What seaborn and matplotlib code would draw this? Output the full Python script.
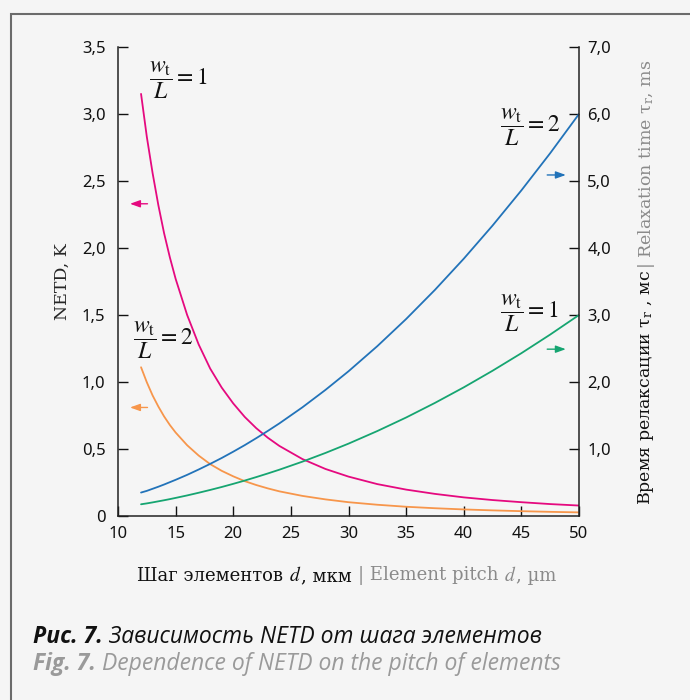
import matplotlib
matplotlib.use("Agg")
import matplotlib.pyplot as plt
import seaborn as sns
import pandas as pd
from matplotlib.patches import Rectangle

# ---- data ----
d = [12, 12.5, 13, 13.5, 14, 14.5, 15, 16, 17, 18, 19, 20, 21, 22, 23, 24, 26, 28, 30,
     32.5, 35, 37.5, 40, 42.5, 45, 47.5, 50]
netd_wl1 = [3.15, 2.83, 2.56, 2.32, 2.11, 1.93, 1.77, 1.50, 1.28, 1.10, 0.958, 0.84, 0.739,
            0.655, 0.584, 0.523, 0.425, 0.351, 0.294, 0.238, 0.197, 0.165, 0.139, 0.119,
            0.103, 0.089, 0.078]
netd_wl2 = [1.11, 0.998, 0.90, 0.817, 0.743, 0.679, 0.623, 0.528, 0.451, 0.387, 0.337, 0.296,
            0.260, 0.231, 0.206, 0.184, 0.150, 0.124, 0.103, 0.084, 0.069, 0.058, 0.049,
            0.042, 0.036, 0.031, 0.027]
tau_wl2 = [0.35, 0.375, 0.406, 0.437, 0.470, 0.505, 0.54, 0.614, 0.694, 0.778, 0.866, 0.96,
           1.058, 1.162, 1.270, 1.382, 1.622, 1.882, 2.16, 2.535, 2.94, 3.375, 3.84, 4.335,
           4.86, 5.415, 6.00]
tau_wl1 = [0.175, 0.188, 0.203, 0.219, 0.235, 0.252, 0.27, 0.307, 0.347, 0.389, 0.433, 0.48,
           0.529, 0.581, 0.635, 0.691, 0.811, 0.941, 1.08, 1.268, 1.47, 1.688, 1.92, 2.168,
           2.43, 2.708, 3.00]

x_ticks = [10, 15, 20, 25, 30, 35, 40, 45, 50]
y_left_ticks = [0, 0.5, 1.0, 1.5, 2.0, 2.5, 3.0, 3.5]
y_left_labels = ["0", "0,5", "1,0", "1,5", "2,0", "2,5", "3,0", "3,5"]
y_right_ticks = [1, 2, 3, 4, 5, 6, 7]
y_right_labels = ["1,0", "2,0", "3,0", "4,0", "5,0", "6,0", "7,0"]

PINK = "#e5097f"
ORANGE = "#f7964b"
BLUE = "#2273b9"
GREEN = "#16a571"
BG = "#f5f5f5"
GRAY = "#8a8a8a"

sns.set_theme(style="ticks")
plt.rcParams["font.family"] = ["DejaVu Serif"]
plt.rcParams["mathtext.fontset"] = "stix"
plt.rcParams["axes.linewidth"] = 1.1
plt.rcParams["axes.edgecolor"] = "#222222"

df = pd.DataFrame({"d": d, "n1": netd_wl1, "n2": netd_wl2, "t2": tau_wl2, "t1": tau_wl1})

fig = plt.figure(figsize=(6.9, 7.0), dpi=100, facecolor=BG)
ax = fig.add_axes([118 / 690, 1 - 516 / 700, (579 - 118) / 690, (516 - 47) / 700])
ax.set_facecolor(BG)
ax2 = ax.twinx()

sns.lineplot(data=df, x="d", y="n1", ax=ax, color=PINK, lw=1.3)
sns.lineplot(data=df, x="d", y="n2", ax=ax, color=ORANGE, lw=1.3)
sns.lineplot(data=df, x="d", y="t2", ax=ax2, color=BLUE, lw=1.3)
sns.lineplot(data=df, x="d", y="t1", ax=ax2, color=GREEN, lw=1.3)

ax.set_xlim(10, 50)
ax.set_ylim(0, 3.5)
ax2.set_ylim(0, 7)

tick_font = dict(family="Noto Sans", size=12)
ax.set_xticks(x_ticks)
ax.set_xticklabels([str(v) for v in x_ticks], fontdict=tick_font)
ax.set_yticks(y_left_ticks)
ax.set_yticklabels(y_left_labels, fontdict=tick_font)
ax2.set_yticks(y_right_ticks)
ax2.set_yticklabels(y_right_labels, fontdict=tick_font)

ax.tick_params(axis="x", direction="in", length=7, width=1.0, pad=7, colors="#111111")
ax.tick_params(axis="y", direction="in", length=7, width=1.0, pad=9, colors="#111111")
ax2.tick_params(axis="y", direction="in", length=7, width=1.0, pad=6, colors="#111111")

for a in (ax, ax2):
    a.spines["top"].set_visible(False)
ax.spines["right"].set_visible(False)
ax2.spines["left"].set_visible(False)
ax2.spines["bottom"].set_visible(False)

ax.set_xlabel("")
ax.set_ylabel("NETD, K", fontsize=12.5, labelpad=8)
ax2.set_ylabel("")

# x label (two-colour)
FS = 13
t1 = fig.text(137 / 690, 1 - 576 / 700, "Шаг элементов ", fontsize=FS, color="#111111",
              va="center", ha="left")
t2 = ax.annotate("$d$", xycoords=t1, xy=(1, 0), va="bottom", ha="left", fontsize=FS + 1, color="#111111")
t3 = ax.annotate(", мкм ", xycoords=t2, xy=(1, 0), va="bottom", ha="left", fontsize=FS, color="#111111")
t4 = ax.annotate("| Element pitch ", xycoords=t3, xy=(1, 0), va="bottom", ha="left", fontsize=FS, color=GRAY)
t5 = ax.annotate("$d$", xycoords=t4, xy=(1, 0), va="bottom", ha="left", fontsize=FS + 1, color=GRAY)
t6 = ax.annotate(", µm", xycoords=t5, xy=(1, 0), va="bottom", ha="left", fontsize=FS, color=GRAY)

# right y label (two-colour, rotated)
RFS = 12.5
r1 = fig.text(636 / 690, 1 - 505 / 700, r"Время релаксации τ$_\mathregular{r}$ , мс ", fontsize=RFS,
              color="#111111", rotation=90, ha="left", va="bottom")
r2 = ax.annotate(r"| Relaxation time τ$_\mathregular{r}$, ms", xycoords=r1, xy=(0, 1), rotation=90,
                 ha="left", va="bottom", fontsize=RFS, color=GRAY)

# curve labels
lab_kw = dict(fontsize=17, color="#111111", ha="left", va="center")
ax.text(12.7, 3.25, r"$\dfrac{w_\mathrm{t}}{L}=\mathrm{1}$", **lab_kw)
ax.text(11.3, 1.31, r"$\dfrac{w_\mathrm{t}}{L}=\mathrm{2}$", **lab_kw)
ax.text(43.15, 2.90, r"$\dfrac{w_\mathrm{t}}{L}=\mathrm{2}$", **lab_kw)
ax.text(43.15, 1.515, r"$\dfrac{w_\mathrm{t}}{L}=\mathrm{1}$", **lab_kw)

# arrows indicating axis
arr = dict(arrowstyle="-|>,head_length=0.5,head_width=0.18", lw=1.0)
ax.annotate("", xy=(10.8, 2.33), xytext=(12.8, 2.33), arrowprops=dict(color=PINK, **arr))
ax.annotate("", xy=(10.8, 0.81), xytext=(12.8, 0.81), arrowprops=dict(color=ORANGE, **arr))
ax.annotate("", xy=(49.1, 2.545), xytext=(47.0, 2.545), arrowprops=dict(color=BLUE, **arr))
ax.annotate("", xy=(49.1, 1.245), xytext=(47.0, 1.245), arrowprops=dict(color=GREEN, **arr))

# caption
cap_font = ["Open Sans", "DejaVu Sans"]
CFS = 16.5
c1 = fig.text(33 / 690, 1 - 637 / 700, "Рис. 7.", fontsize=CFS, style="italic", weight="bold",
              family=cap_font, color="#111111", va="center", ha="left")
c2 = ax.annotate(" Зависимость NETD от шага элементов", xycoords=c1, xy=(1, 0), va="bottom", ha="left",
                 fontsize=CFS, style="italic", family=cap_font, color="#111111")
c3 = fig.text(33 / 690, 1 - 664 / 700, "Fig. 7.", fontsize=CFS, style="italic", weight="bold",
              family=cap_font, color="#9a9a9a", va="center", ha="left")
c4 = ax.annotate(" Dependence of NETD on the pitch of elements", xycoords=c3, xy=(1, 0), va="bottom",
                 ha="left", fontsize=CFS, style="italic", family=cap_font, color="#9a9a9a")

# frame
fig.patches.append(Rectangle((11 / 690, -0.1), 1.2, 1 - 14 / 700 + 0.1, transform=fig.transFigure,
                             fill=False, edgecolor="#6b6b6b", lw=1.5))

fig.savefig("out.png", dpi=100, facecolor=BG)
